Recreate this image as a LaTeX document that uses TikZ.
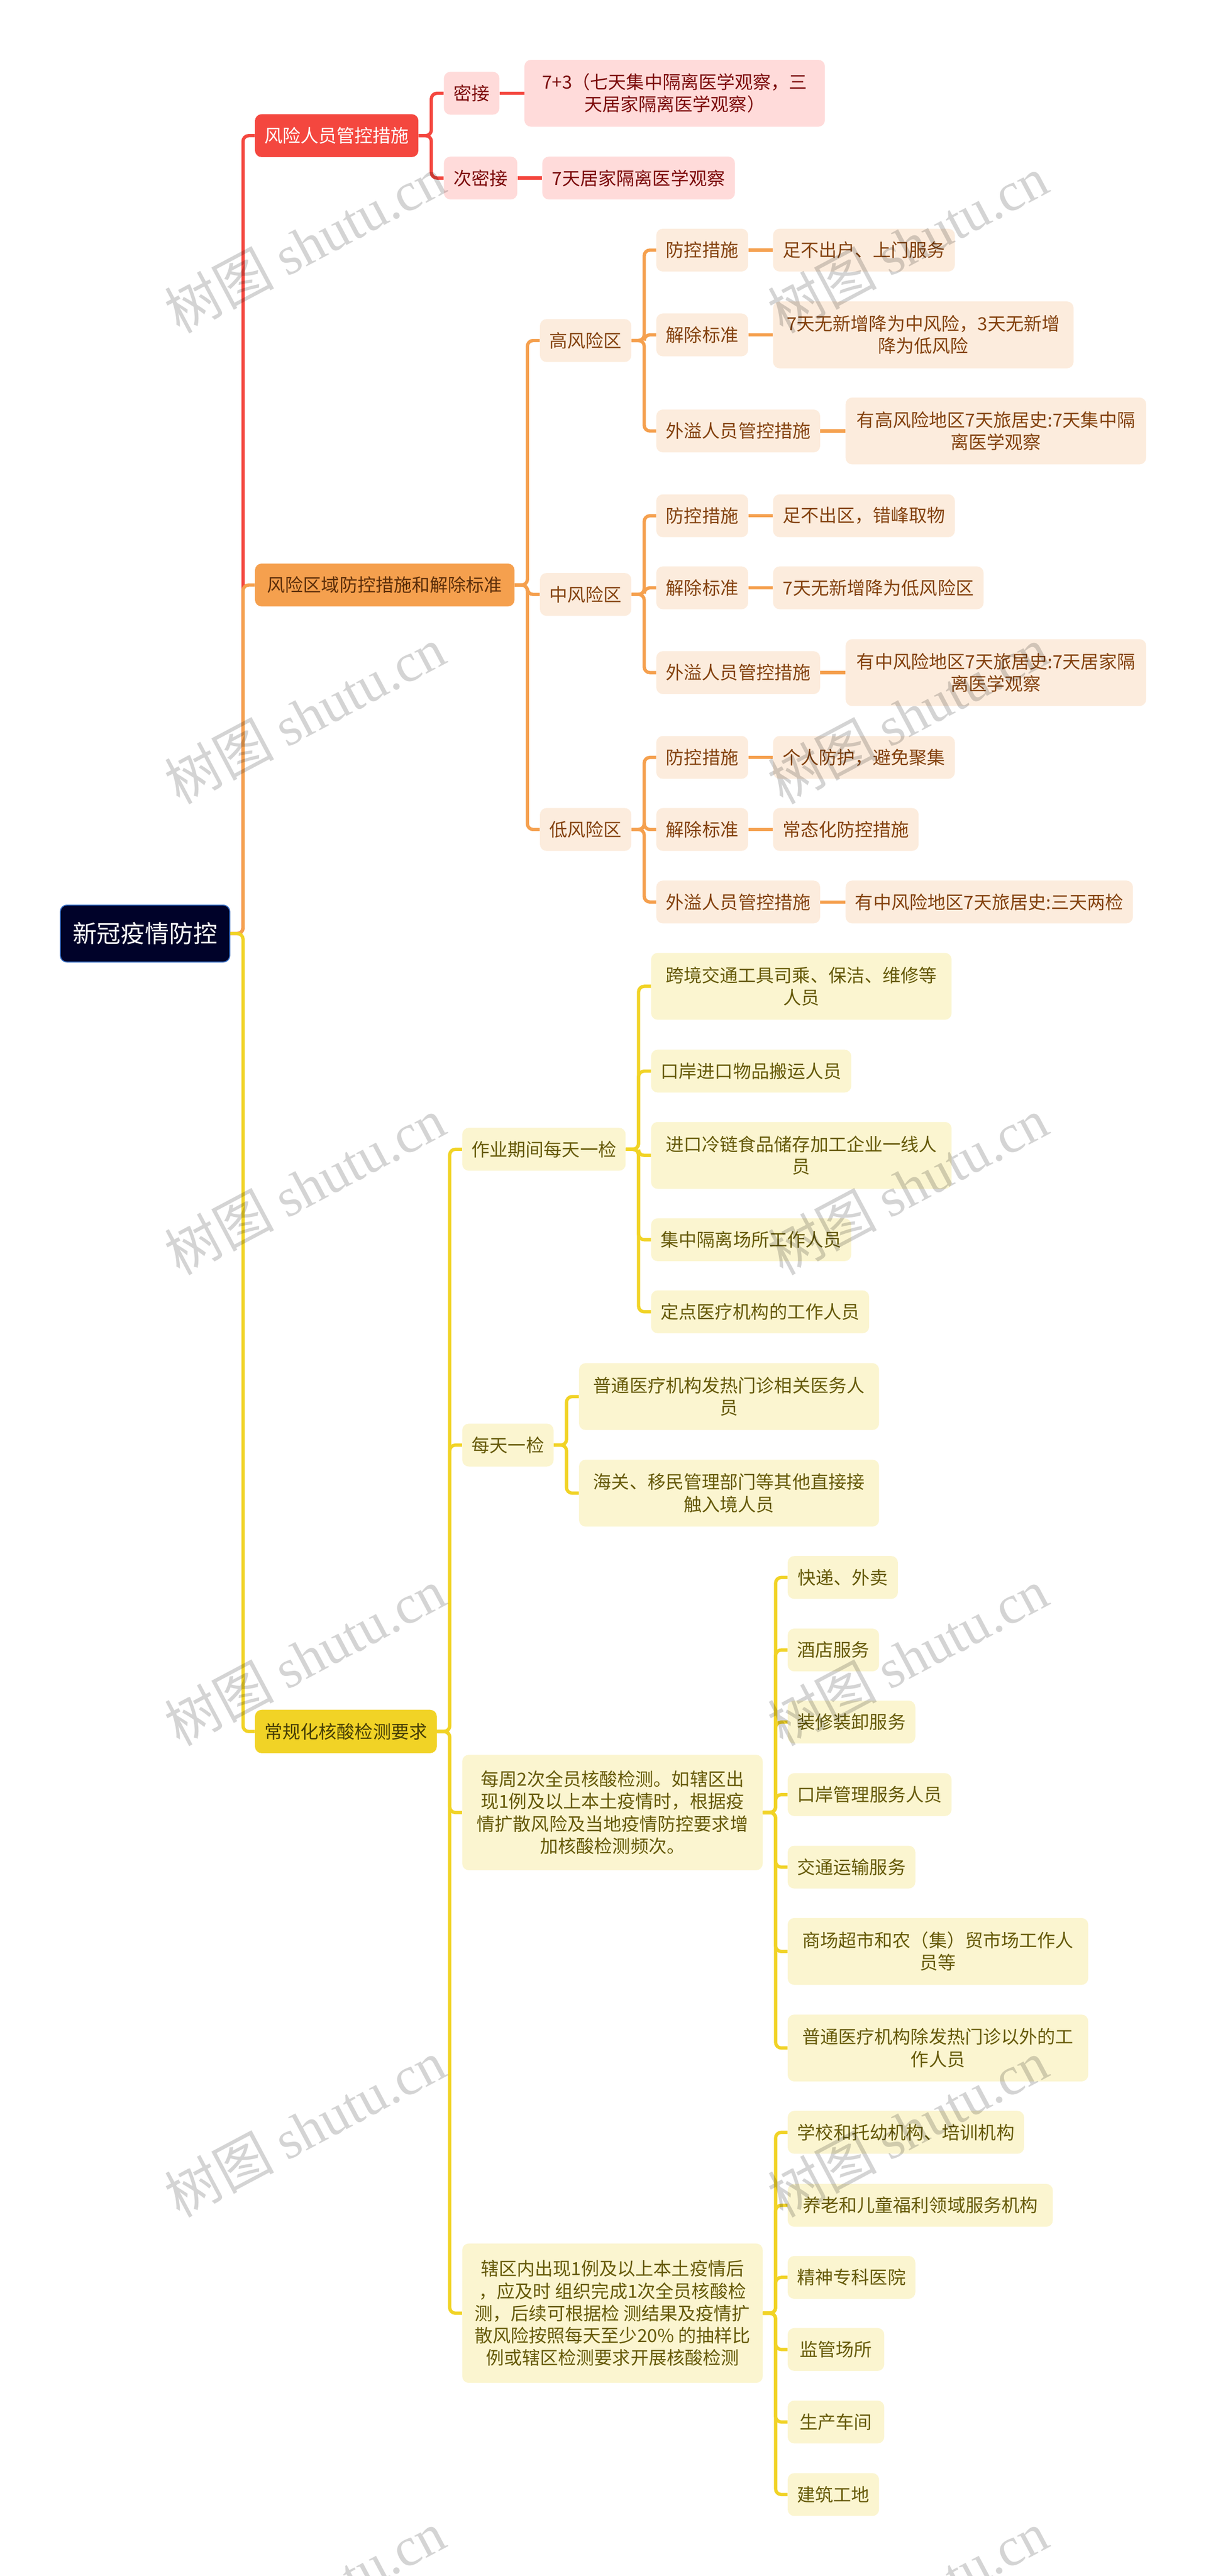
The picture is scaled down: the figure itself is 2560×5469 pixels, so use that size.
\documentclass[tikz,border=0pt]{standalone}
\usepackage{fontspec}
\setmainfont{Noto Sans CJK SC}
\newfontfamily\latinmark{Liberation Serif}
\definecolor{rootfill}{HTML}{000229}
\definecolor{rootedge}{HTML}{3A72C8}
\definecolor{redline}{HTML}{F4473F}
\definecolor{redpale}{HTML}{FFDBDA}
\definecolor{redtext}{HTML}{7C0A0A}
\definecolor{orgline}{HTML}{F5A04E}
\definecolor{orgpale}{HTML}{FCECDD}
\definecolor{orgtext}{HTML}{84420F}
\definecolor{yelline}{HTML}{F1D326}
\definecolor{yelpale}{HTML}{FBF5D0}
\definecolor{yeltext}{HTML}{665A08}
\tikzset{
	wd/.style={minimum width=#1*0.5pt},
	ht/.style={minimum height=#1*0.5pt},
	box/.style={anchor=west,rounded corners=7pt,inner sep=0pt,align=center,ht=91,
		font=\fontsize{19.2}{23.6}\selectfont},
	rootbox/.style={box,fill=rootfill,draw=rootedge,line width=1pt,text=white,ht=121,
		font=\fontsize{25.6}{30}\selectfont},
	redhead/.style={box,fill=redline,text=white},
	orghead/.style={box,fill=orgline,text=orgtext!70!black},
	yelhead/.style={box,fill=yelline,text=yeltext!70!black},
	redleaf/.style={box,fill=redpale,text=redtext},
	orgleaf/.style={box,fill=orgpale,text=orgtext},
	yelleaf/.style={box,fill=yelpale,text=yeltext},
	wmark/.style={rotate=28,text=black,text opacity=.17,font=\fontsize{58}{58}\selectfont},
}
\newcommand{\elbow}[3]{\draw[#1,line width=3.5pt,rounded corners=6pt] (#2.east) -- ++(13.5pt,0) |- (#3.west);}
\newcommand{\tie}[3]{\draw[#1,line width=3.5pt] (#2.east) -- (#3.west);}
\begin{document}
\begin{tikzpicture}[x=.5pt,y=-.5pt]
	\useasboundingbox (0,0) rectangle (2560,5469);
	\clip (0,0) rectangle (2560,5469);

	\node[rootbox,wd=360] (root) at (127,1982) {新冠疫情防控};

	\node[redhead,wd=347] (ra) at (541,288) {风险人员管控措施};
	\node[redleaf,wd=118] (ra1) at (942,198) {密接};
	\node[redleaf,wd=638,ht=142] (ra1x) at (1113,198) {7+3（七天集中隔离医学观察，三\\天居家隔离医学观察）};
	\node[redleaf,wd=156] (ra2) at (942,378) {次密接};
	\node[redleaf,wd=409] (ra2x) at (1151,378) {7天居家隔离医学观察};

	\node[orghead,wd=551] (rb) at (541,1242) {风险区域防控措施和解除标准};
	\node[orgleaf,wd=194] (hi) at (1146,723) {高风险区};
	\node[orgleaf,wd=194] (mid) at (1146,1262) {中风险区};
	\node[orgleaf,wd=194] (lo) at (1146,1761) {低风险区};

	\node[orgleaf,wd=195] (hi1) at (1393,531) {防控措施};
	\node[orgleaf,wd=386] (hi1x) at (1641,531) {足不出户、上门服务};
	\node[orgleaf,wd=195] (hi2) at (1393,711) {解除标准};
	\node[orgleaf,wd=638,ht=142] (hi2x) at (1641,711) {7天无新增降为中风险，3天无新增\\降为低风险};
	\node[orgleaf,wd=348] (hi3) at (1393,915) {外溢人员管控措施};
	\node[orgleaf,wd=638,ht=142] (hi3x) at (1795,915) {有高风险地区7天旅居史:7天集中隔\\离医学观察};

	\node[orgleaf,wd=195] (mid1) at (1393,1095) {防控措施};
	\node[orgleaf,wd=386] (mid1x) at (1641,1095) {足不出区，错峰取物};
	\node[orgleaf,wd=195] (mid2) at (1393,1248) {解除标准};
	\node[orgleaf,wd=447] (mid2x) at (1641,1248) {7天无新增降为低风险区};
	\node[orgleaf,wd=348] (mid3) at (1393,1428) {外溢人员管控措施};
	\node[orgleaf,wd=638,ht=142] (mid3x) at (1795,1428) {有中风险地区7天旅居史:7天居家隔\\离医学观察};

	\node[orgleaf,wd=195] (lo1) at (1393,1608) {防控措施};
	\node[orgleaf,wd=386] (lo1x) at (1641,1608) {个人防护，避免聚集};
	\node[orgleaf,wd=195] (lo2) at (1393,1761) {解除标准};
	\node[orgleaf,wd=309] (lo2x) at (1641,1761) {常态化防控措施};
	\node[orgleaf,wd=348] (lo3) at (1393,1915) {外溢人员管控措施};
	\node[orgleaf,wd=610] (lo3x) at (1795,1915) {有中风险地区7天旅居史:三天两检};

	\node[yelhead,wd=386,ht=92] (rc) at (541,3676) {常规化核酸检测要求};
	\node[yelleaf,wd=347] (work) at (981,2440) {作业期间每天一检};
	\node[yelleaf,wd=638,ht=142] (work1) at (1382,2094) {跨境交通工具司乘、保洁、维修等\\人员};
	\node[yelleaf,wd=425] (work2) at (1382,2274) {口岸进口物品搬运人员};
	\node[yelleaf,wd=638,ht=142] (work3) at (1382,2453) {进口冷链食品储存加工企业一线人\\员};
	\node[yelleaf,wd=425] (work4) at (1382,2632) {集中隔离场所工作人员};
	\node[yelleaf,wd=463] (work5) at (1382,2785) {定点医疗机构的工作人员};

	\node[yelleaf,wd=194] (day) at (981,3068) {每天一检};
	\node[yelleaf,wd=637,ht=142] (day1) at (1229,2965) {普通医疗机构发热门诊相关医务人\\员};
	\node[yelleaf,wd=637,ht=142] (day2) at (1229,3170) {海关、移民管理部门等其他直接接\\触入境人员};

	\node[yelleaf,wd=638,ht=245] (week) at (981,3848) {每周2次全员核酸检测。如辖区出\\现1例及以上本土疫情时，根据疫\\情扩散风险及当地疫情防控要求增\\加核酸检测频次。};
	\node[yelleaf,wd=234] (week1) at (1672,3349) {快递、外卖};
	\node[yelleaf,wd=194] (week2) at (1672,3503) {酒店服务};
	\node[yelleaf,wd=271] (week3) at (1672,3656) {装修装卸服务};
	\node[yelleaf,wd=348] (week4) at (1672,3810) {口岸管理服务人员};
	\node[yelleaf,wd=271] (week5) at (1672,3964) {交通运输服务};
	\node[yelleaf,wd=638,ht=142] (week6) at (1672,4143) {商场超市和农（集）贸市场工作人\\员等};
	\node[yelleaf,wd=638,ht=142] (week7) at (1672,4348) {普通医疗机构除发热门诊以外的工\\作人员};

	\node[yelleaf,wd=638,ht=296] (area) at (981,4911) {辖区内出现1例及以上本土疫情后\\，应及时 组织完成1次全员核酸检\\测，后续可根据检 测结果及疫情扩\\散风险按照每天至少20\% 的抽样比\\例或辖区检测要求开展核酸检测};
	\node[yelleaf,wd=502] (area1) at (1672,4527) {学校和托幼机构、培训机构};
	\node[yelleaf,wd=563] (area2) at (1672,4682) {养老和儿童福利领域服务机构};
	\node[yelleaf,wd=271] (area3) at (1672,4835) {精神专科医院};
	\node[yelleaf,wd=205] (area4) at (1672,4988) {监管场所};
	\node[yelleaf,wd=205] (area5) at (1672,5142) {生产车间};
	\node[yelleaf,wd=194] (area6) at (1672,5296) {建筑工地};

	\elbow{redline}{root}{ra}
	\elbow{orgline}{root}{rb}
	\elbow{yelline}{root}{rc}

	\foreach \kid in {ra1,ra2} {\elbow{redline}{ra}{\kid}}
	\tie{redline}{ra1}{ra1x}
	\tie{redline}{ra2}{ra2x}

	\foreach \kid in {hi,mid,lo} {\elbow{orgline}{rb}{\kid}}
	\foreach \zone in {hi,mid,lo} {
		\foreach \i in {1,2,3} {
			\elbow{orgline}{\zone}{\zone\i}
			\tie{orgline}{\zone\i}{\zone\i x}
		}
	}

	\foreach \kid in {work,day,week,area} {\elbow{yelline}{rc}{\kid}}
	\foreach \i in {1,...,5} {\elbow{yelline}{work}{work\i}}
	\foreach \i in {1,2} {\elbow{yelline}{day}{day\i}}
	\foreach \i in {1,...,7} {\elbow{yelline}{week}{week\i}}
	\foreach \i in {1,...,6} {\elbow{yelline}{area}{area\i}}

	\foreach \y in {518,1518,2518,3518,4518,5518} {
		\node[wmark] (wmleft\y) at (647,\y) {树图 {\latinmark shutu.cn}};
		\node[wmark] (wmright\y) at (1927,\y) {树图 {\latinmark shutu.cn}};
	}
\end{tikzpicture}
\end{document}
